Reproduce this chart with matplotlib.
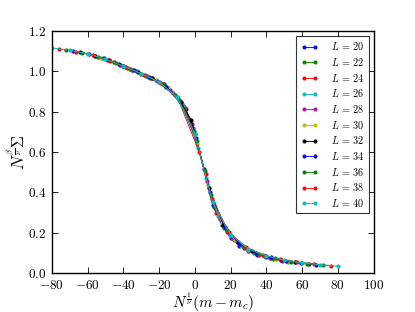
import matplotlib
matplotlib.use("Agg")
import matplotlib.pyplot as plt
from matplotlib.ticker import FuncFormatter, MultipleLocator

plt.rcParams['mathtext.fontset'] = 'cm'
plt.rcParams['font.family'] = ['DejaVu Serif']

sizes = [20, 22, 24, 26, 28, 30, 32, 34, 36, 38, 40]
colors = ['b', 'g', 'r', 'c', 'm', 'y', 'k', 'b', 'g', 'r', 'c']

x20 = [-40, -35, -30, -25, -20, -15, -10, -5, 0, 5, 10, 15, 20, 25, 30, 35, 40]
y20 = [1.025, 1.008, 0.989, 0.969, 0.947, 0.917, 0.872, 0.812, 0.692, 0.515, 0.335, 0.240, 0.174, 0.136, 0.109, 0.091, 0.077]

x22 = [-44, -38.5, -33, -27.5, -22, -16.5, -11, -5.5, 1.0, 5.5, 11, 16.5, 22, 27.5, 33, 38.5, 44]
y22 = [1.041, 1.021, 1.001, 0.980, 0.957, 0.927, 0.882, 0.820, 0.655, 0.505, 0.326, 0.225, 0.162, 0.126, 0.101, 0.084, 0.071]

x24 = [-48, -42, -36, -30, -24, -18, -12, -6, -1.5, 6, 12, 18, 24, 30, 36, 42, 48]
y24 = [1.055, 1.034, 1.012, 0.990, 0.966, 0.936, 0.891, 0.826, 0.740, 0.490, 0.300, 0.204, 0.147, 0.112, 0.090, 0.075, 0.063]

x26 = [-52, -45.5, -39, -32.5, -26, -19.5, -13, -6.5, 2.0, 6.5, 13, 19.5, 26, 32.5, 39, 45.5, 52]
y26 = [1.068, 1.047, 1.023, 1.000, 0.974, 0.945, 0.900, 0.832, 0.620, 0.473, 0.283, 0.186, 0.135, 0.104, 0.082, 0.068, 0.057]

x28 = [-56, -49, -42, -35, -28, -21, -14, -7, -1.0, 7, 14, 21, 28, 35, 42, 49, 56]
y28 = [1.078, 1.059, 1.034, 1.009, 0.982, 0.952, 0.909, 0.838, 0.720, 0.455, 0.267, 0.173, 0.125, 0.095, 0.076, 0.062, 0.053]

x30 = [-60, -52.5, -45, -37.5, -30, -22.5, -15, -7.5, 1.5, 7.5, 15, 22.5, 30, 37.5, 45, 52.5, 60]
y30 = [1.088, 1.069, 1.045, 1.018, 0.990, 0.959, 0.918, 0.844, 0.640, 0.438, 0.250, 0.163, 0.116, 0.089, 0.070, 0.058, 0.049]

x32 = [-64, -56, -48, -40, -32, -24, -16, -8, -2.0, 8, 16, 24, 32, 40, 48, 56, 64]
y32 = [1.095, 1.078, 1.055, 1.026, 0.998, 0.966, 0.924, 0.849, 0.760, 0.420, 0.239, 0.153, 0.109, 0.082, 0.066, 0.054, 0.045]

x34 = [-68, -59.5, -51, -42.5, -34, -25.5, -17, -8.5, 0.5, 8.5, 17, 25.5, 34, 42.5, 51, 59.5, 68]
y34 = [1.102, 1.087, 1.065, 1.036, 1.005, 0.972, 0.936, 0.855, 0.672, 0.403, 0.226, 0.142, 0.101, 0.077, 0.061, 0.050, 0.042]

x36 = [-72, -63, -54, -45, -36, -27, -18, -9, -0.5, 9, 18, 27, 36, 45, 54, 63, 72]
y36 = [1.107, 1.093, 1.073, 1.045, 1.012, 0.978, 0.936, 0.861, 0.705, 0.385, 0.214, 0.135, 0.095, 0.072, 0.057, 0.047, 0.039]

x38 = [-76, -66.5, -57, -47.5, -38, -28.5, -19, -9.5, 2.5, 9.5, 19, 28.5, 38, 47.5, 57, 66.5, 76]
y38 = [1.112, 1.099, 1.081, 1.054, 1.019, 0.984, 0.942, 0.867, 0.600, 0.368, 0.203, 0.128, 0.090, 0.068, 0.054, 0.044, 0.036]

x40 = [-80, -70, -60, -50, -40, -30, -20, -10, 0, 10, 20, 30, 40, 50, 60, 70, 80]
y40 = [1.117, 1.105, 1.088, 1.062, 1.026, 0.990, 0.948, 0.873, 0.690, 0.350, 0.190, 0.120, 0.085, 0.064, 0.050, 0.041, 0.034]

xs = [x20, x22, x24, x26, x28, x30, x32, x34, x36, x38, x40]
ys = [y20, y22, y24, y26, y28, y30, y32, y34, y36, y38, y40]

fig = plt.figure(figsize=(4.15, 3.12), dpi=100)
ax = fig.add_axes([0.125, 0.125, 0.775, 0.775])

for L, c, x, y in zip(sizes, colors, xs, ys):
    ax.plot(x, y, '-', color=c, lw=0.7, marker='o', ms=2.0, mec=c, mfc=c,
            label=r'$L\,=\,%d$' % L)

ax.set_xlim(-80, 100)
ax.set_ylim(0.0, 1.2)
ax.xaxis.set_major_locator(MultipleLocator(20))
ax.yaxis.set_major_locator(MultipleLocator(0.2))
ax.xaxis.set_major_formatter(FuncFormatter(lambda v, p: r'$%d$' % round(v)))
ax.yaxis.set_major_formatter(FuncFormatter(lambda v, p: r'$%.1f$' % v))
ax.tick_params(direction='in', top=True, right=True, length=4, width=0.6,
               labelsize=9.5)
ax.tick_params(axis='x', pad=4)
ax.tick_params(axis='y', pad=4)
for s in ax.spines.values():
    s.set_linewidth(1.0)

ax.set_xlabel(r'$N^{\frac{1}{\nu}}(m-m_c)$', fontsize=11, labelpad=-1)
ax.set_ylabel(r'$N^{\frac{\beta}{\nu}}\Sigma$', fontsize=12, labelpad=-1)

leg = ax.legend(loc='upper right', numpoints=2, fontsize=7.3, frameon=True,
                fancybox=False, shadow=False, handlelength=1.7,
                labelspacing=0.36, borderpad=0.45, handletextpad=1.3,
                borderaxespad=0.45)
leg.get_frame().set_edgecolor('black')
leg.get_frame().set_linewidth(0.8)
for h in leg.get_lines():
    h.set_alpha(0.9)

fig.savefig('out.png', dpi=100, facecolor='white')
